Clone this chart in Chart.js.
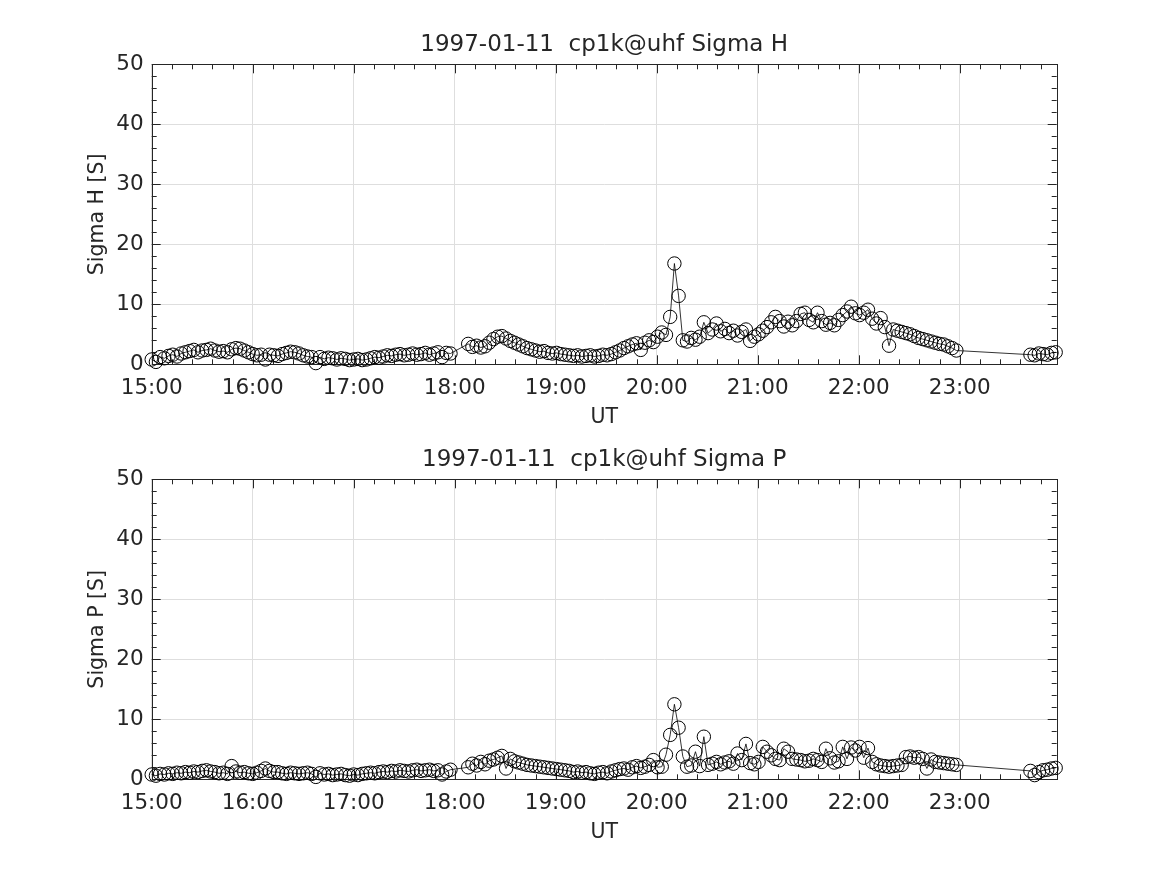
<!DOCTYPE html>
<html lang="en">
<head>
<meta charset="UTF-8">
<title>1997-01-11 cp1k@uhf Sigma H / Sigma P</title>
<script src="https://cdn.jsdelivr.net/npm/chart.js"></script>
<style>
  body { margin: 0; background: #fff; }
  #wrap { position: relative; width: 1167px; height: 875px; }
  canvas { position: absolute; left: 0; }
</style>
</head>
<body>
<div id="wrap">
  <canvas id="chartH" width="1167" height="440" style="top:0"></canvas>
  <canvas id="chartP" width="1167" height="440" style="top:415px"></canvas>
</div>
<script>
// UT in minutes after 00:00
const timeMin = [
  900, 902.5, 905, 907.5, 910, 912.5, 915, 917.5, 920, 922.5,
  925, 927.5, 930, 932.5, 935, 937.5, 940, 942.5, 945, 947.5,
  950, 952.5, 955, 957.5, 960, 962.5, 965, 967.5, 970, 972.5,
  975, 977.5, 980, 982.5, 985, 987.5, 990, 992.5, 995, 997.5,
  1000, 1002.5, 1005, 1007.5, 1010, 1012.5, 1015, 1017.5, 1020, 1022.5,
  1025, 1027.5, 1030, 1032.5, 1035, 1037.5, 1040, 1042.5, 1045, 1047.5,
  1050, 1052.5, 1055, 1057.5, 1060, 1062.5, 1065, 1067.5, 1070, 1072.5,
  1075, 1077.5,
  1088, 1090.5, 1093, 1095.5, 1098, 1100.5, 1103, 1105.5, 1108, 1110.5,
  1113, 1115.5, 1118, 1120.5, 1123, 1125.5, 1128, 1130.5, 1133, 1135.5,
  1138, 1140.5, 1143, 1145.5, 1148, 1150.5, 1153, 1155.5, 1158, 1160.5,
  1163, 1165.5, 1168, 1170.5, 1173, 1175.5, 1178, 1180.5, 1183, 1185.5,
  1188, 1190.5, 1193, 1195.5, 1198, 1200.5, 1203, 1205.5, 1208, 1210.5,
  1213, 1215.5, 1218, 1220.5, 1223, 1225.5, 1228, 1230.5, 1233, 1235.5,
  1238, 1240.5, 1243, 1245.5, 1248, 1250.5, 1253, 1255.5, 1258, 1260.5,
  1263, 1265.5, 1268, 1270.5, 1273, 1275.5, 1278, 1280.5, 1283, 1285.5,
  1288, 1290.5, 1293, 1295.5, 1298, 1300.5, 1303, 1305.5, 1308, 1310.5,
  1313, 1315.5, 1318, 1320.5, 1323, 1325.5, 1328, 1330.5, 1333, 1335.5,
  1338, 1340.5, 1343, 1345.5, 1348, 1350.5, 1353, 1355.5, 1358, 1360.5,
  1363, 1365.5, 1368, 1370.5, 1373, 1375.5, 1378,
  1422, 1424.5, 1427, 1429.5, 1432, 1434.5, 1437
];

const sigmaH = [
  0.8, 0.4, 1.2, 1.0, 1.4, 1.6, 1.3, 1.8, 2.0, 2.2,
  2.4, 2.0, 2.3, 2.4, 2.6, 2.3, 2.1, 2.2, 2.0, 2.5,
  2.7, 2.6, 2.3, 2.0, 1.7, 1.5, 1.6, 0.8, 1.6, 1.5,
  1.4, 1.7, 1.9, 2.1, 2.0, 1.8, 1.5, 1.3, 1.2, 0.2,
  1.2, 0.9, 1.1, 1.0, 0.8, 1.0, 0.9, 0.7, 0.8, 0.9,
  0.7, 0.8, 1.0, 1.2, 1.1, 1.3, 1.5, 1.4, 1.6, 1.7,
  1.5, 1.6, 1.8, 1.6, 1.7, 1.9, 1.6, 1.8, 2.0, 1.2,
  1.9, 1.8,
  3.4, 2.9, 3.1, 2.8, 3.0, 3.6, 4.2, 4.6, 4.7, 4.3,
  3.9, 3.6, 3.3, 3.0, 2.7, 2.5, 2.3, 2.1, 2.2, 1.9,
  1.8, 1.9, 1.7, 1.6, 1.5, 1.4, 1.5, 1.3, 1.4, 1.5,
  1.3, 1.4, 1.6, 1.5, 1.7, 2.0, 2.3, 2.7, 3.0, 3.3,
  3.5, 2.4, 3.6, 4.0, 3.7, 4.6, 5.3, 4.9, 7.9, 16.8,
  11.4, 4.0, 3.8, 4.4, 4.1, 4.6, 7.0, 5.2, 5.8, 6.8,
  5.5, 5.9, 5.2, 5.6, 4.8, 5.4, 5.8, 3.9, 4.6, 5.0,
  5.6, 6.2, 7.0, 7.9, 7.2, 6.3, 7.1, 6.5, 7.2, 8.4,
  8.6, 7.4, 7.0, 8.6, 7.2, 6.6, 6.9, 6.5, 7.4, 8.2,
  8.8, 9.6, 8.5, 8.2, 8.6, 9.1, 7.6, 6.8, 7.7, 6.2,
  3.1, 5.8, 5.6, 5.4, 5.2, 5.0, 4.7, 4.4, 4.2, 4.0,
  3.8, 3.6, 3.4, 3.3, 3.0, 2.7, 2.3,
  1.6, 1.5, 1.8, 1.7, 1.6, 1.9, 2.0
];

const sigmaP = [
  0.8, 0.6, 0.9, 0.8, 1.0, 0.9, 1.1, 1.0, 1.2, 1.1,
  1.3, 1.2, 1.4, 1.5, 1.3, 1.2, 1.0, 1.1, 0.9, 2.2,
  1.3, 1.1, 1.2, 1.0, 0.9, 1.1, 1.4, 1.8, 1.4, 1.2,
  1.2, 1.0, 0.9, 1.1, 1.0, 0.9, 1.0, 1.1, 0.9, 0.4,
  1.0, 0.8, 0.9, 0.7, 0.8, 0.9, 0.7, 0.6, 0.8, 0.7,
  0.9, 1.0, 1.1, 1.0, 1.2, 1.3, 1.2, 1.4, 1.3, 1.5,
  1.4, 1.3, 1.5, 1.6, 1.4, 1.5, 1.6, 1.4, 1.5, 0.8,
  1.3, 1.6,
  2.0, 2.6, 2.3, 2.9, 2.5, 3.1, 3.3, 3.6, 3.9, 1.8,
  3.4, 3.0, 2.8, 2.6, 2.4, 2.3, 2.2, 2.1, 2.0, 1.9,
  1.8, 1.7, 1.6, 1.5, 1.4, 1.2, 1.3, 1.1, 1.2, 1.0,
  0.9, 1.1, 1.2, 1.0, 1.3, 1.5, 1.7, 1.8, 1.6, 2.0,
  2.2, 1.9, 2.1, 2.4, 3.2, 2.0, 2.1, 4.1, 7.4, 12.5,
  8.6, 3.8, 2.1, 2.3, 4.6, 2.2, 7.1, 2.4, 2.6, 2.9,
  2.5, 2.8, 3.0, 2.6, 4.3, 3.2, 5.9, 2.7, 2.5, 2.9,
  5.4, 4.6, 4.0, 3.4, 3.2, 5.1, 4.6, 3.4, 3.3, 3.2,
  3.0, 3.1, 3.4, 3.2, 2.9, 5.1, 3.5, 2.8, 3.0, 5.4,
  3.4, 5.3, 4.8, 5.4, 3.6, 5.2, 2.9, 2.5, 2.3, 2.2,
  2.1, 2.2, 2.3, 2.4, 3.7, 3.8, 3.6, 3.7, 3.4, 1.8,
  3.3, 2.9, 2.8, 2.7, 2.6, 2.5, 2.4,
  1.4, 0.7, 1.2, 1.5, 1.6, 1.8, 1.9
];

const hourLabels = ['15:00', '16:00', '17:00', '18:00', '19:00', '20:00', '21:00', '22:00', '23:00'];
const hourTicks = [900, 960, 1020, 1080, 1140, 1200, 1260, 1320, 1380];
const titles = ['1997-01-11  cp1k@uhf Sigma H', '1997-01-11  cp1k@uhf Sigma P'];
const yLabels = ['Sigma H [S]', 'Sigma P [S]'];
const xLabel = 'UT';

const tMin = 900, tMax = 1437.6;
const ink = '#262626';
const gridCol = '#dedede';
const font = 'DejaVu Sans';

// MATLAB-like box with inward major/minor ticks, plus centred title
const boxPlugin = {
  id: 'box',
  beforeDatasetsDraw(chart) {
    const { ctx, chartArea: a, scales: { x, y } } = chart;
    ctx.save();
    ctx.strokeStyle = ink;
    ctx.lineWidth = 1;
    ctx.beginPath();
    for (let m = tMin; m <= tMax; m += 12) {
      const px = Math.round(x.getPixelForValue(m)) + 0.5;
      const len = (m % 60 === 0) ? 9 : 5;
      ctx.moveTo(px, a.bottom); ctx.lineTo(px, a.bottom - len);
      ctx.moveTo(px, a.top); ctx.lineTo(px, a.top + len);
    }
    for (let v = 0; v <= 50; v += 2) {
      const py = Math.round(y.getPixelForValue(v)) + 0.5;
      const len = (v % 10 === 0) ? 9 : 5;
      ctx.moveTo(a.left, py); ctx.lineTo(a.left + len, py);
      ctx.moveTo(a.right, py); ctx.lineTo(a.right - len, py);
    }
    ctx.stroke();
    ctx.strokeRect(Math.round(a.left) + 0.5, Math.round(a.top) + 0.5,
                   Math.round(a.right - a.left), Math.round(a.bottom - a.top));
    ctx.restore();
  },
  afterDraw(chart, args, opts) {
    const { ctx, chartArea: a } = chart;
    ctx.save();
    ctx.fillStyle = ink;
    ctx.font = '23px "' + font + '"';
    ctx.textAlign = 'center';
    ctx.textBaseline = 'middle';
    ctx.fillText(opts.text, (a.left + a.right) / 2, 45);
    ctx.restore();
  }
};

function makeChart(id, values, title, yLabel) {
  return new Chart(document.getElementById(id), {
    type: 'line',
    data: {
      datasets: [{
        data: timeMin.map((t, i) => ({ x: t, y: values[i] })),
        borderColor: '#000',
        borderWidth: 0.8,
        pointRadius: 6.7,
        pointHoverRadius: 6.7,
        pointBorderWidth: 1,
        pointBorderColor: '#000',
        pointBackgroundColor: 'rgba(0,0,0,0)',
        fill: false,
        tension: 0,
        clip: false
      }]
    },
    options: {
      responsive: false,
      animation: false,
      layout: { padding: { top: 64.3, left: 0, right: 110.3, bottom: 0 } },
      plugins: {
        legend: { display: false },
        tooltip: { enabled: false },
        title: { display: false },
        box: { text: title }
      },
      scales: {
        x: {
          type: 'linear',
          min: tMin,
          max: tMax,
          afterBuildTicks: s => { s.ticks = hourTicks.map(v => ({ value: v })); },
          afterFit: s => { s.height = 440 - 364.3; },
          ticks: {
            padding: 11,
            color: ink,
            font: { family: font, size: 21.5 },
            callback: v => hourLabels[hourTicks.indexOf(v)]
          },
          grid: { color: gridCol, drawTicks: false },
          border: { display: false },
          title: {
            display: true, text: xLabel, color: ink,
            font: { family: font, size: 20.5 },
            padding: { top: 0, bottom: 10 }
          }
        },
        y: {
          min: 0,
          max: 50,
          afterFit: s => { s.width = 151.7; },
          ticks: {
            stepSize: 10,
            padding: 8,
            color: ink,
            font: { family: font, size: 21.5 }
          },
          grid: { color: gridCol, drawTicks: false },
          border: { display: false },
          title: {
            display: true, text: yLabel, color: ink,
            font: { family: font, size: 20.5 },
            padding: { top: 85, bottom: 0 }
          }
        }
      }
    },
    plugins: [boxPlugin]
  });
}

makeChart('chartH', sigmaH, titles[0], yLabels[0]);
makeChart('chartP', sigmaP, titles[1], yLabels[1]);
</script>
</body>
</html>
